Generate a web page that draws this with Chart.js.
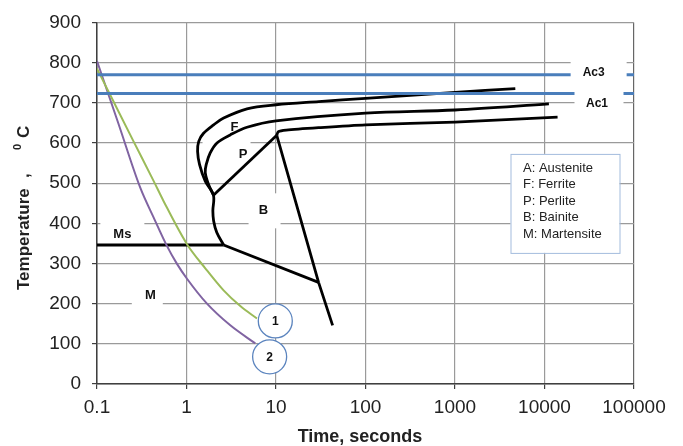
<!DOCTYPE html>
<html>
<head>
<meta charset="utf-8">
<script src="https://cdn.jsdelivr.net/npm/chart.js@4.4.1/dist/chart.umd.min.js"></script>
<style>
  html, body { margin: 0; padding: 0; background: #fff; }
  #wrap { width: 683px; height: 446px; }
</style>
</head>
<body>
<div id="wrap"><canvas id="cct" width="683" height="446"></canvas></div>
<script>
/* ── CCT diagram : time (log) vs temperature ── */

const FONT = '"Liberation Sans", Arial, "DejaVu Sans", sans-serif';

const TIME_TICKS  = [0.1, 1, 10, 100, 1000, 10000, 100000];
const TIME_LABELS = ['0.1', '1', '10', '100', '1000', '10000', '100000'];

// critical temperatures
const AC_TIME  = [0.1, 100000];
const AC3_TEMP = [770, 770];
const AC1_TEMP = [723, 723];

// ferrite start (outer C-curve, runs on into the bainite nose)
const FS_TIME = [4720, 1000, 100, 30, 10, 4.74, 2.6, 2.01, 1.55, 1.37, 1.33, 1.40, 1.62, 2.0, 1.97, 2.01, 2.18, 2.6];
const FS_TEMP = [735, 726, 711, 703, 695, 685, 662, 645, 624, 604, 579, 546, 505, 470, 431, 406, 377, 346];

// pearlite start
const PS_TIME = [11200, 1000, 100, 10, 4.74, 3.08, 2.19, 1.84, 1.66, 1.62, 1.76, 2.0];
const PS_TEMP = [697, 682, 674, 655, 639, 620, 600, 575, 546, 526, 497, 470];

// pearlite finish
const PF_TIME = [14000, 1000, 100, 30, 13, 10.6, 10.2];
const PF_TEMP = [664, 652, 645, 638, 632, 628, 619];

// bainite finish
const BF_TIME = [10.2, 29.9, 42.9];
const BF_TEMP = [619, 253, 146];

// pearlite / bainite border
const PB_TIME = [10.2, 2.0];
const PB_TEMP = [619, 470];

// Ms line and lower bainite line
const MS_TIME = [0.1, 2.6];
const MS_TEMP = [346, 346];
const BL_TIME = [2.6, 29.9];
const BL_TEMP = [346, 253];

// cooling curves 1 and 2
const C1_TIME = [0.1, 0.153, 0.256, 0.43, 0.555, 1.013, 1.622, 2.597, 3.99, 6.13];
const C1_TEMP = [785, 703, 604, 505, 455, 348, 288, 233, 194, 163];
const C2_TIME = [0.1, 0.173, 0.305, 0.426, 0.594, 0.783, 1.013, 1.694, 3.086, 5.87];
const C2_TEMP = [804, 649, 488, 416, 347, 299, 262, 200, 146, 101];

const LEGEND_LINES = ['A: Austenite', 'F: Ferrite', 'P: Perlite', 'B: Bainite', 'M: Martensite'];

// text labels on the plot (t, c in data units; w/h/dx = white box in px)
const REGION_LABELS = [
  { text: 'F',  t: 3.44,  c: 639, w: 48, h: 34, dx: -8 },
  { text: 'P',  t: 4.28,  c: 571, w: 30, h: 20, dx: 0 },
  { text: 'B',  t: 7.26,  c: 431, w: 32, h: 35, dx: 1 },
  { text: 'Ms', t: 0.192, c: 373, w: 44, h: 32, dx: 0 },
  { text: 'M',  t: 0.394, c: 220, w: 31, h: 34, dx: -3 }
];
const AC_LABELS = [
  { text: 'Ac3', t: 35400, c: 776, w: 56, h: 24, dx: 5, dy: 0 },
  { text: 'Ac1', t: 38600, c: 697, w: 49, h: 26, dx: 2, dy: -1 }
];
const CIRCLE_LABELS = [
  { text: '1', t: 9.82, c: 157 },
  { text: '2', t: 8.49, c: 67.6 }
];

function pts(ts, cs) {
  return ts.map((t, i) => ({ x: t, y: cs[i] }));
}

function line(data, color, width, tension, mono) {
  return {
    data, borderColor: color, borderWidth: width, tension: tension || 0,
    cubicInterpolationMode: mono ? 'monotone' : 'default',
    pointRadius: 0, fill: false, borderCapStyle: 'butt', borderJoinStyle: 'round'
  };
}

function drawLabel(ctx, sx, sy, l, font) {
  const x = sx.getPixelForValue(l.t), y = sy.getPixelForValue(l.c);
  ctx.fillStyle = '#fff';
  ctx.fillRect(x + (l.dx || 0) - l.w / 2, y + (l.dy || 0) - l.h / 2, l.w, l.h);
  ctx.fillStyle = '#111';
  ctx.font = font;
  ctx.textAlign = 'center';
  ctx.textBaseline = 'middle';
  ctx.fillText(l.text, x, y);
}

const labelsPlugin = {
  id: 'cctLabels',
  beforeDatasetsDraw(chart) {
    const { ctx, scales: { x, y } } = chart;
    ctx.save();
    REGION_LABELS.forEach(l => drawLabel(ctx, x, y, l, 'bold 13px ' + FONT));
    ctx.restore();
  },
  afterDatasetsDraw(chart) {
    const { ctx, scales: { x, y }, chartArea } = chart;
    ctx.save();
    AC_LABELS.forEach(l => drawLabel(ctx, x, y, l, 'bold 12px ' + FONT));

    CIRCLE_LABELS.forEach(l => {
      const px = x.getPixelForValue(l.t), py = y.getPixelForValue(l.c);
      ctx.beginPath();
      ctx.arc(px, py, 17, 0, Math.PI * 2);
      ctx.fillStyle = '#fff';
      ctx.fill();
      ctx.lineWidth = 1.3;
      ctx.strokeStyle = '#5B84BE';
      ctx.stroke();
      ctx.fillStyle = '#111';
      ctx.font = 'bold 12px ' + FONT;
      ctx.textAlign = 'center';
      ctx.textBaseline = 'middle';
      ctx.fillText(l.text, px, py + 1);
    });

    // phase legend box
    const bx = chartArea.right - 123.5, by = chartArea.top + 131.5;
    ctx.fillStyle = '#fff';
    ctx.fillRect(bx, by, 109, 99);
    ctx.strokeStyle = '#A3BCDD';
    ctx.lineWidth = 1;
    ctx.strokeRect(bx + 0.5, by + 0.5, 109, 99);
    ctx.fillStyle = '#222';
    ctx.font = '13px ' + FONT;
    ctx.textAlign = 'left';
    ctx.textBaseline = 'middle';
    LEGEND_LINES.forEach((s, i) => ctx.fillText(s, bx + 12.5, by + 14.5 + i * 16.5));

    // axis titles
    ctx.fillStyle = '#222';
    ctx.font = 'bold 18px ' + FONT;
    ctx.textAlign = 'center';
    ctx.fillText('Time, seconds', 360, 437);

    ctx.translate(24, 290);
    ctx.rotate(-Math.PI / 2);
    ctx.textAlign = 'left';
    ctx.font = 'bold 17px ' + FONT;
    ctx.fillText('Temperature', 0, 0);
    ctx.fillText(',', 112, 0);
    ctx.fillText('C', 152, 0);
    ctx.font = 'bold 11px ' + FONT;
    ctx.fillText('0', 140, -6);
    ctx.restore();
  }
};

new Chart(document.getElementById('cct'), {
  type: 'line',
  data: {
    datasets: [
      line(pts(AC_TIME, AC3_TEMP), '#4A7EBB', 3),
      line(pts(AC_TIME, AC1_TEMP), '#4A7EBB', 3),
      line(pts(C1_TIME, C1_TEMP), '#9BBB59', 2, 0.4, true),
      line(pts(C2_TIME, C2_TEMP), '#8064A2', 2, 0.4, true),
      line(pts(FS_TIME, FS_TEMP), '#000', 2.8, 0.35),
      line(pts(PS_TIME, PS_TEMP), '#000', 2.8, 0.35),
      line(pts(PF_TIME, PF_TEMP), '#000', 2.8, 0.25),
      line(pts(BF_TIME, BF_TEMP), '#000', 2.8),
      line(pts(PB_TIME, PB_TEMP), '#000', 2.8),
      line(pts(MS_TIME, MS_TEMP), '#000', 2.8),
      line(pts(BL_TIME, BL_TEMP), '#000', 2.8)
    ]
  },
  options: {
    responsive: false,
    animation: false,
    layout: { padding: { top: 20, right: 49, left: 0, bottom: 0 } },
    plugins: { legend: { display: false }, tooltip: { enabled: false } },
    scales: {
      x: {
        type: 'logarithmic',
        min: 0.1, max: 100000,
        afterBuildTicks: s => { s.ticks = TIME_TICKS.map(v => ({ value: v })); },
        afterFit: s => { s.height = 62; },
        ticks: {
          callback: (v) => TIME_LABELS[TIME_TICKS.indexOf(v)] ?? '',
          color: '#222', padding: 7, maxRotation: 0, autoSkip: false,
          font: { family: FONT, size: 19 }
        },
        grid: { color: c => (c.index === TIME_TICKS.length - 1 ? '#666' : '#9a9a9a'), lineWidth: 1.2, tickLength: 5, tickColor: '#3f3f3f' },
        border: { color: '#3f3f3f', width: 1.5 },
        title: { display: false }
      },
      y: {
        min: 0, max: 900,
        afterFit: s => { s.width = 97; },
        ticks: {
          stepSize: 100, color: '#222', padding: 11,
          font: { family: FONT, size: 19 }
        },
        grid: { color: '#9a9a9a', lineWidth: 1.2, tickLength: 5, tickColor: '#3f3f3f' },
        border: { color: '#3f3f3f', width: 1.5 },
        title: { display: false }
      }
    }
  },
  plugins: [labelsPlugin]
});
</script>
</body>
</html>
